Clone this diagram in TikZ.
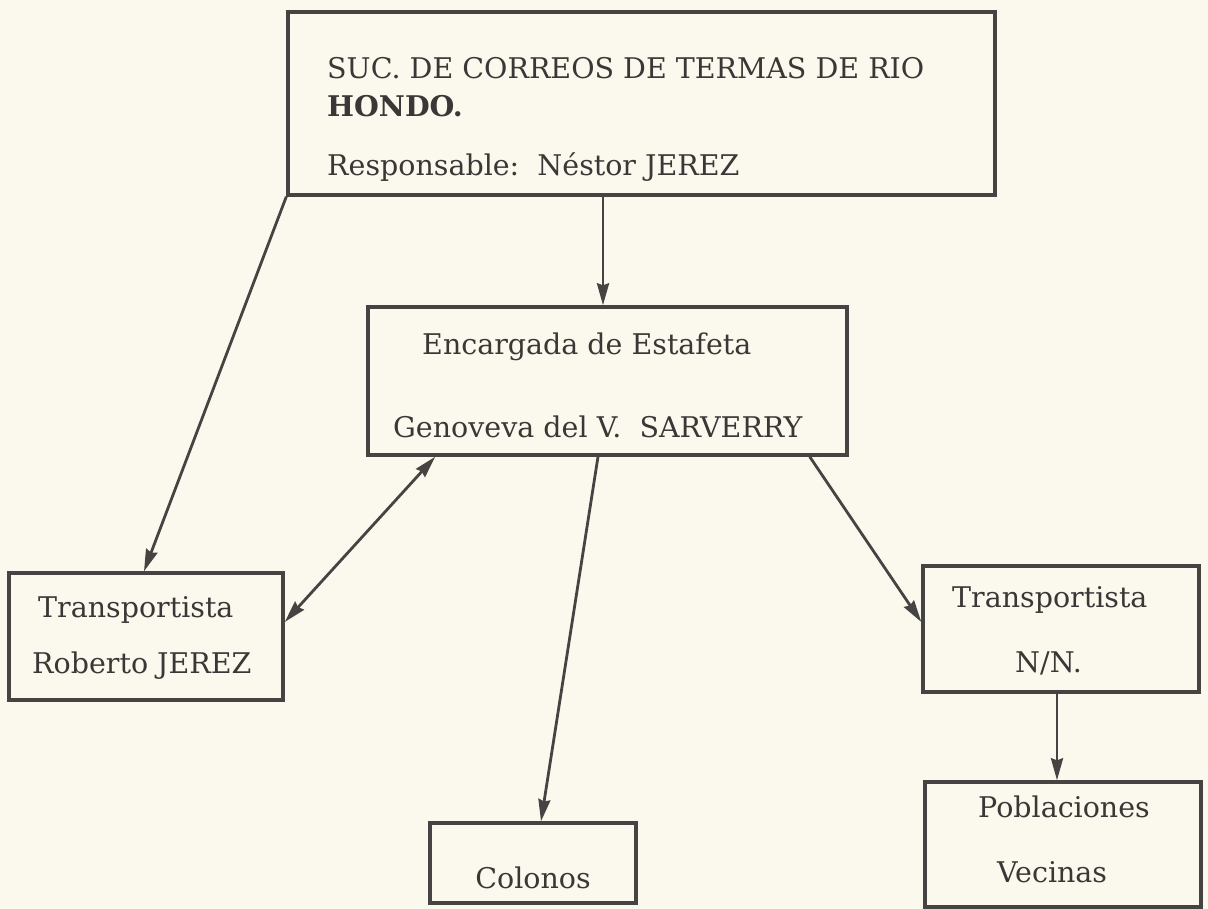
\documentclass[tikz,border=0pt]{standalone}
\usepackage{fontspec}
\setmainfont{DejaVu Serif}
\usetikzlibrary{positioning, arrows.meta}

\definecolor{paper}{RGB}{251,249,238}
\definecolor{ink}{RGB}{70,68,66}
\definecolor{type}{RGB}{58,56,54}

\begin{document}
\begin{tikzpicture}[x = 1pt, y = -1pt,
    box/.style = { draw = ink, line width = 3.4pt, inner sep = 0pt },
    txt/.style = { anchor = base west, inner sep = 0pt, text = type,
                   font = \fontsize{28.5pt}{34pt}\selectfont },
    tip/.style = { -{Stealth[length = 22pt, width = 12pt, inset = 2pt]} },
    link/.style = { draw = ink, line width = 2.8pt, tip }]
  \fill[paper] (0,0) rectangle (1208,909);
  \useasboundingbox (0,0) rectangle (1208,909);

  % boxes
  \node[box, minimum width = 707pt, minimum height = 183pt] (suc) at (641.5,103.5) {};
  \node[box, minimum width = 479pt, minimum height = 148pt] (enc) at (607.5,381) {};
  \node[box, minimum width = 274pt, minimum height = 127pt] (trl) at (146,636.5) {};
  \node[box, minimum width = 276pt, minimum height = 126pt] (trr) at (1061,629) {};
  \node[box, minimum width = 276pt, minimum height = 125pt] (pob) at (1063,844.5) {};
  \node[box, minimum width = 206pt, minimum height = 80pt] (col) at (533,863) {};

  % texts
  \node[txt] (sucA) at (327,79) {SUC. DE CORREOS DE TERMAS DE RIO};
  \node[txt] (sucB) at (327,117) {\bfseries HONDO.};
  \node[txt] (sucC) at (327,176) {Responsable:\ \ Néstor JEREZ};
  \node[txt] (encA) at (422,355) {Encargada de Estafeta};
  \node[txt] (encB) at (393,437) {Genoveva del V.\ \ SARVERRY};
  \node[txt] (trlA) at (38,617) {Transportista};
  \node[txt] (trlB) at (32,673) {Roberto JEREZ};
  \node[txt] (trrA) at (952,607) {Transportista};
  \node[txt] (trrB) at (1015,672) {N/N.};
  \node[txt] (pobA) at (978,817) {Poblaciones};
  \node[txt] (pobB) at (997,882) {Vecinas};
  \node[txt, anchor = base] (colA) at (533,888) {Colonos};

  % connectors
  \draw[link] ([xshift = -38.5pt]suc.south) -- ([xshift = -38.5pt]suc.south |- enc.north);
  \draw[link] (suc.south west) -- ([xshift = -2pt]trl.north);
  \draw[link, {Stealth[length = 22pt, width = 12pt, inset = 2pt]}-{Stealth[length = 22pt, width = 12pt, inset = 2pt]}]
    ([xshift = 69pt]enc.south west) -- ([yshift = 14.5pt]trl.east);
  \draw[link] ([xshift = -9.5pt]enc.south) -- ([xshift = 8pt]col.north);
  \draw[link] ([xshift = -39pt]enc.south east) -- ([yshift = 7pt]trr.west);
  \draw[link] ([xshift = -4pt]trr.south) -- ([xshift = -4pt]trr.south |- pob.north);
\end{tikzpicture}
\end{document}
